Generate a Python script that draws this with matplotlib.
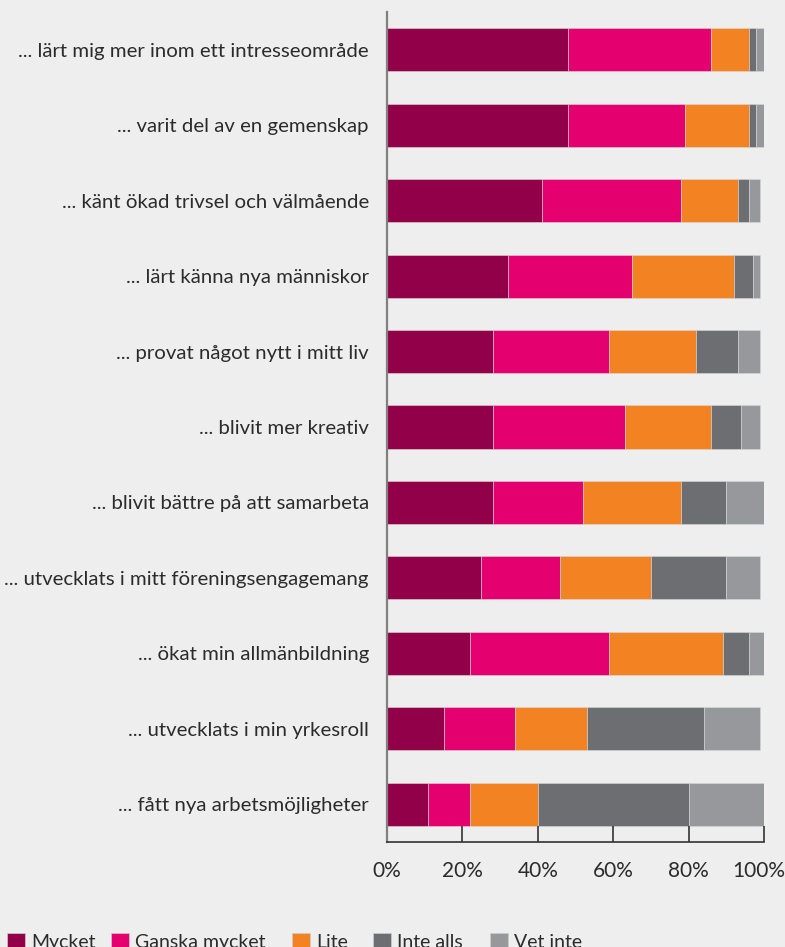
import matplotlib
matplotlib.use("Agg")
import matplotlib.pyplot as plt
import matplotlib.transforms as mtransforms
from matplotlib.patches import Patch

plt.rcParams['font.family'] = ['Lato', 'DejaVu Sans']

categories = [
    "... lärt mig mer inom ett intresseområde",
    "... varit del av en gemenskap",
    "... känt ökad trivsel och välmående",
    "... lärt känna nya människor",
    "... provat något nytt i mitt liv",
    "... blivit mer kreativ",
    "... blivit bättre på att samarbeta",
    "... utvecklats i mitt föreningsengagemang",
    "... ökat min allmänbildning",
    "... utvecklats i min yrkesroll",
    "... fått nya arbetsmöjligheter",
]
series_names = ["Mycket", "Ganska mycket", "Lite", "Inte alls", "Vet inte"]
mycket = [48, 48, 41, 32, 28, 28, 28, 25, 22, 15, 11]
ganska = [38, 31, 37, 33, 31, 35, 24, 21, 37, 19, 11]
lite = [10, 17, 15, 27, 23, 23, 26, 24, 30, 19, 18]
inte_alls = [2, 2, 3, 5, 11, 8, 12, 20, 7, 31, 40]
vet_inte = [2, 2, 3, 2, 6, 5, 10, 9, 4, 15, 20]
xticks = [0, 20, 40, 60, 80, 100]
xticklabels = ["0%", "20%", "40%", "60%", "80%", "100%"]

colors = ["#93004a", "#e5006f", "#f28222", "#6d6e71", "#97989b"]
bg = "#eeeeee"

fig = plt.figure(figsize=(7.85, 9.47), dpi=100, facecolor=bg)
ax = fig.add_axes([387/785, 105/947, (764-387)/785, (842-12)/947])
ax.set_facecolor(bg)

series = [mycket, ganska, lite, inte_alls, vet_inte]
y = list(range(len(categories)))
left = [0]*len(categories)
for vals, c, name in zip(series, colors, series_names):
    ax.barh(y, vals, left=left, height=0.57, color=c, edgecolor="#d8d8d8",
            linewidth=0.4, label=name)
    left = [l + v for l, v in zip(left, vals)]

ax.set_ylim(10.5, -0.5)
ax.set_xlim(0, 100)
ax.set_yticks(y)
ax.set_yticklabels(categories, fontsize=14.7, color="#2b2b2b")
ax.tick_params(axis='y', length=0, pad=13)
ax.set_xticks(xticks)
ax.set_xticklabels(xticklabels, fontsize=15, color="#2b2b2b")
ax.tick_params(axis='x', direction='in', length=11.5, width=1.2, color="#333333", pad=14)
last = ax.xaxis.get_major_ticks()[-1].label1
last.set_transform(last.get_transform() +
                   mtransforms.ScaledTranslation(-5/100, 0, fig.dpi_scale_trans))

for s in ['top', 'right']:
    ax.spines[s].set_visible(False)
ax.spines['left'].set_color("#808080")
ax.spines['left'].set_linewidth(1.6)
ax.spines['bottom'].set_color("#333333")
ax.spines['bottom'].set_linewidth(1.2)

legend_x = [7, 111, 292, 373, 490]
for c, name, lx in zip(colors, series_names, legend_x):
    h = Patch(facecolor=c, edgecolor="#cccccc", linewidth=0.5)
    fig.legend([h], [name], loc='upper left', bbox_to_anchor=(lx/785, 14/947),
               frameon=False, fontsize=14, handlelength=0.9, handleheight=0.9,
               handletextpad=0.35, borderaxespad=0, borderpad=0,
               labelcolor="#2b2b2b")

fig.savefig("out.png", dpi=100, facecolor=bg)
